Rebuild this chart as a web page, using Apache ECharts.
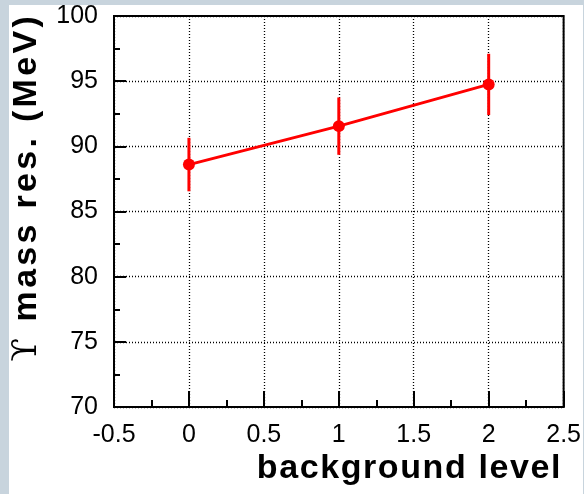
<!DOCTYPE html>
<html>
<head>
<meta charset="utf-8">
<script src="https://cdn.jsdelivr.net/npm/echarts@6/dist/echarts.min.js"></script>
<style>
html,body{margin:0;padding:0;background:#c8d4dd;}
#wrap{position:absolute;left:9px;top:5px;width:574px;height:489px;background:#ffffff;}
#chart{position:absolute;left:0;top:0;width:584px;height:494px;}
</style>
</head>
<body>
<div id="wrap"></div>
<div id="chart"></div>
<script>
// Data
const bgLevels = [0, 1, 2];
const massRes = [88.6, 91.55, 94.75];
const massErr = [2.05, 2.2, 2.35];
const xTitle = 'background level';
const yTitleSymbol = '\u03D2';
const yTitleText = ' mass res. (MeV)';

const chart = echarts.init(document.getElementById('chart'), null, {renderer: 'canvas'});
const pts = bgLevels.map((x, i) => [x, massRes[i]]);
const errs = bgLevels.map((x, i) => [x, massRes[i] - massErr[i], massRes[i] + massErr[i]]);

// spread characters slightly (ROOT text is set a bit looser than the browser font)
function spaced(str, style) {
  return str.split('').map(c => '{' + style + '|' + c + '}').join('');
}

const FONT = 'Liberation Sans';
const option = {
  backgroundColor: 'transparent',
  animation: false,
  grid: {left: 114, top: 16, right: 20, bottom: 87, show: true, borderColor: '#000', borderWidth: 2, backgroundColor: 'transparent'},
  xAxis: {
    type: 'value', min: -0.5, max: 2.5, interval: 0.5,
    axisLine: {show: true, onZero: false, lineStyle: {color: '#000', width: 2}},
    axisTick: {show: true, inside: true, length: 16, lineStyle: {color: '#000', width: 2}},
    minorTick: {show: true, splitNumber: 2, length: 7, lineStyle: {color: '#000', width: 2}},
    axisLabel: {color: '#000', fontFamily: FONT, fontSize: 25, margin: 16,
      formatter: v => String(Math.round(v * 10) / 10)},
    splitLine: {show: true, lineStyle: {color: '#000', width: 1.3, type: [1, 2]}}
  },
  yAxis: {
    type: 'value', min: 70, max: 100, interval: 5,
    axisLine: {show: true, onZero: false, lineStyle: {color: '#000', width: 2}},
    axisTick: {show: true, inside: true, length: 12, lineStyle: {color: '#000', width: 2}},
    minorTick: {show: true, splitNumber: 2, length: 6, lineStyle: {color: '#000', width: 2}},
    axisLabel: {color: '#000', fontFamily: FONT, fontSize: 25, margin: 16},
    splitLine: {show: true, lineStyle: {color: '#000', width: 1.3, type: [1, 2]}}
  },
  graphic: [
    {type: 'text', x: 562, y: 469,
      style: {text: spaced(xTitle, 'c'), align: 'right', verticalAlign: 'middle',
        rich: {c: {font: 'bold 34px "Liberation Sans"', fill: '#000', padding: [0, 1.6, 0, 0]}}}},
    {type: 'text', x: 27, y: 13, rotation: Math.PI / 2,
      style: {text: '{s|' + yTitleSymbol + '}' + spaced(yTitleText, 't'), align: 'right', verticalAlign: 'middle',
        rich: {s: {font: '34px "DejaVu Serif"', fill: '#000', padding: [0, 4, 0, 0]},
               t: {font: 'bold 34px "Liberation Sans"', fill: '#000', padding: [0, 3.3, 0, 0]}}}}
  ],
  series: [
    {
      type: 'custom', data: errs, z: 3,
      renderItem: (params, api) => {
        const lo = api.coord([api.value(0), api.value(1)]);
        const hi = api.coord([api.value(0), api.value(2)]);
        return {type: 'line', shape: {x1: lo[0], y1: lo[1], x2: hi[0], y2: hi[1]}, style: {stroke: '#ff0000', lineWidth: 3}};
      }
    },
    {
      type: 'line', data: pts, z: 4, symbol: 'circle', symbolSize: 12,
      lineStyle: {color: '#ff0000', width: 3}, itemStyle: {color: '#ff0000'}
    }
  ]
};
chart.setOption(option);
</script>
</body>
</html>
